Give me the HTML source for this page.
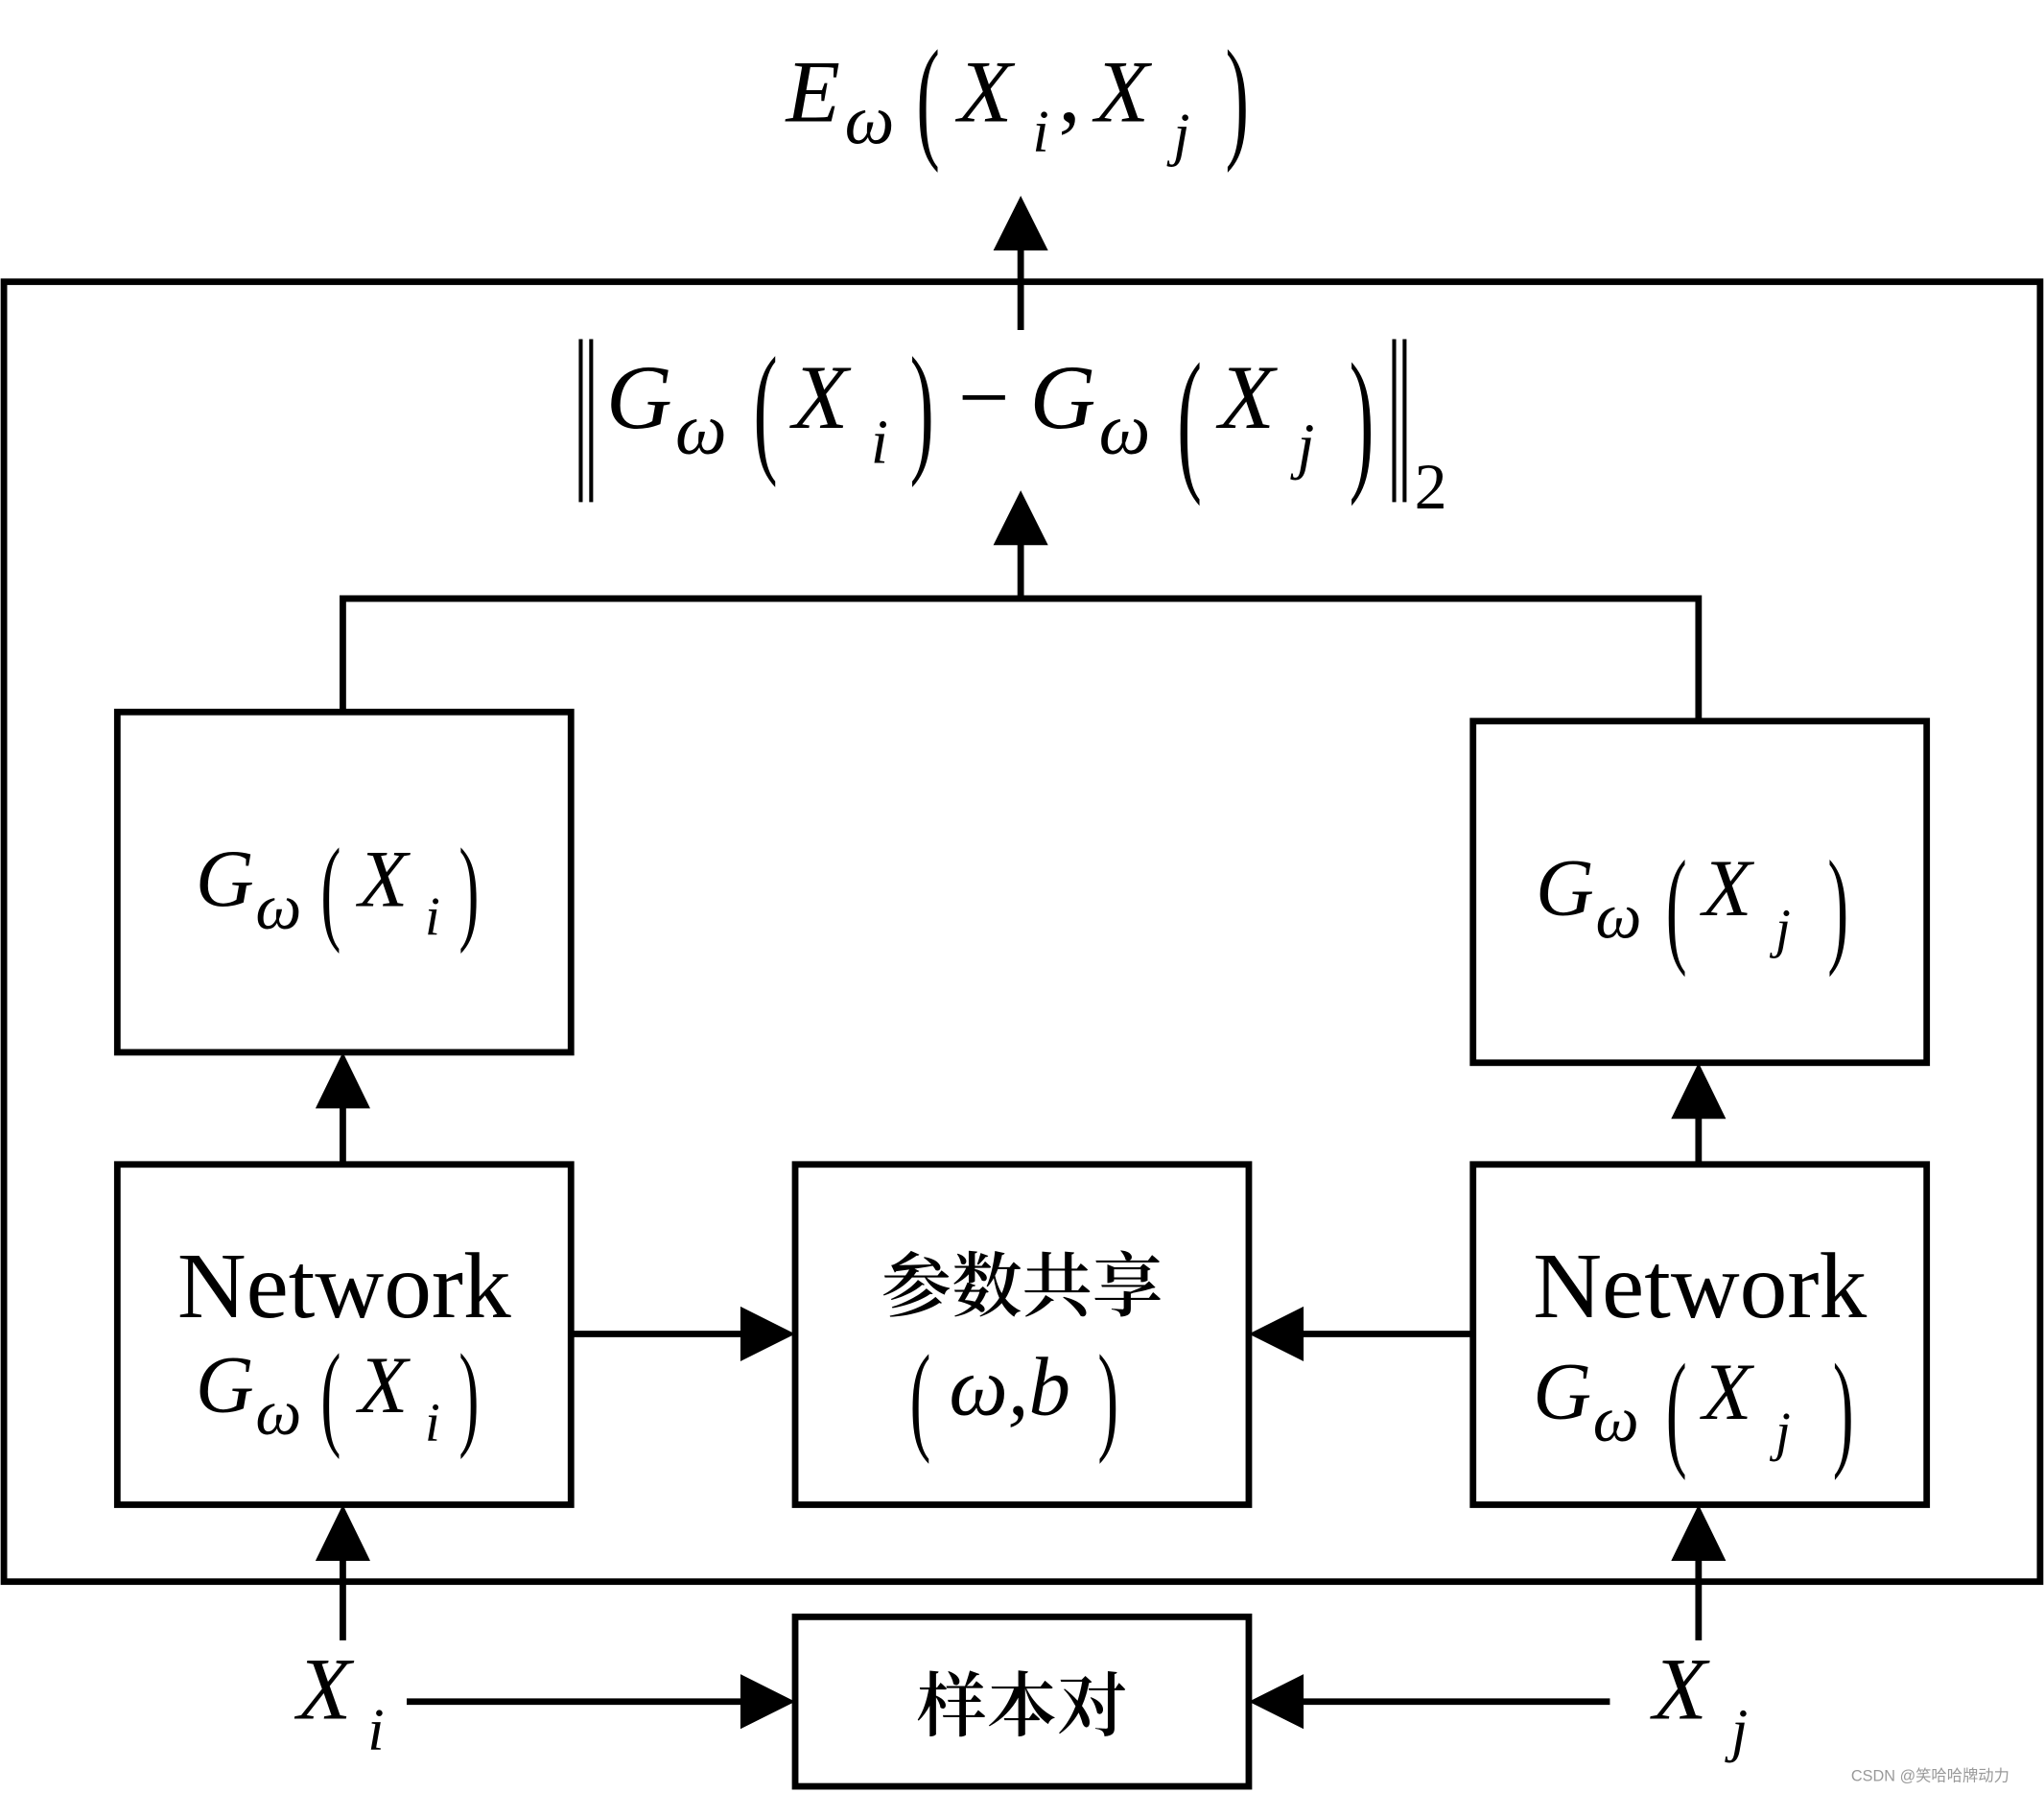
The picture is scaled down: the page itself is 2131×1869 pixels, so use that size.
<!DOCTYPE html>
<html><head><meta charset="utf-8"><style>
html,body{margin:0;padding:0;background:#fff;}
svg{display:block;}
text{font-family:"Liberation Serif","Noto Serif CJK SC",serif;fill:#000;}
.i{font-style:italic;}
.cjk{font-family:"Liberation Serif","Noto Serif CJK SC",serif;font-weight:600;}
</style></head><body>
<svg width="2131" height="1869" viewBox="0 0 1568 1375" xmlns="http://www.w3.org/2000/svg">
<g fill="none" stroke="#000" stroke-width="5">
<rect x="3" y="216" width="1562" height="997"/>
<rect x="90" y="546" width="348" height="261"/>
<rect x="1130" y="553" width="348" height="262"/>
<rect x="90" y="893" width="348" height="261"/>
<rect x="610" y="893" width="348" height="261"/>
<rect x="1130" y="893" width="348" height="261"/>
<rect x="610" y="1240" width="348" height="130"/>
<polyline points="263,546 263,459 1303,459 1303,553"/>
<line x1="783" y1="459" x2="783" y2="412"/>
<line x1="783" y1="253" x2="783" y2="186"/>
<line x1="263" y1="893" x2="263" y2="845"/>
<line x1="1303" y1="893" x2="1303" y2="853"/>
<line x1="263" y1="1258" x2="263" y2="1192"/>
<line x1="1303" y1="1258" x2="1303" y2="1192"/>
<line x1="438" y1="1023" x2="572" y2="1023"/>
<line x1="1130" y1="1023" x2="996" y2="1023"/>
<line x1="312" y1="1305" x2="572" y2="1305"/>
<line x1="1235" y1="1305" x2="996" y2="1305"/>
</g>
<g fill="#000">
<polygon points="783,150 762,192 804,192"/>
<polygon points="783,376 762,418 804,418"/>
<polygon points="263,807 242,850 284,850"/>
<polygon points="1303,815 1282,858 1324,858"/>
<polygon points="263,1154 242,1197 284,1197"/>
<polygon points="1303,1154 1282,1197 1324,1197"/>
<polygon points="610,1023 568,1002 568,1044"/>
<polygon points="958,1023 1000,1002 1000,1044"/>
<polygon points="610,1305 568,1284 568,1326"/>
<polygon points="958,1305 1000,1284 1000,1326"/>
</g>
<text x="603" y="93" font-size="68" class="i">E</text>
<text x="648" y="110" font-size="54" class="i">ω</text>
<text transform="translate(703,110) scale(0.75,1.45)" font-size="72">(</text>
<text x="735" y="93" font-size="68" class="i">X</text>
<text x="792" y="116" font-size="46" class="i">i</text>
<text x="812" y="93" font-size="68">,</text>
<text x="840" y="93" font-size="68" class="i">X</text>
<text x="900" y="118" font-size="46" class="i">j</text>
<text transform="translate(940,110) scale(0.75,1.45)" font-size="72">)</text>
<rect x="444" y="260" width="3" height="125"/>
<rect x="452" y="260" width="3" height="125"/>
<rect x="1068" y="260" width="3" height="125"/>
<rect x="1076" y="260" width="3" height="125"/>
<text x="465" y="328" font-size="70" class="i">G</text>
<text x="518" y="348" font-size="56" class="i">ω</text>
<text transform="translate(578,350) scale(0.75,1.5)" font-size="74">(</text>
<text x="608" y="328" font-size="70" class="i">X</text>
<text x="668" y="355" font-size="48" class="i">i</text>
<text transform="translate(698,350) scale(0.75,1.5)" font-size="74">)</text>
<text x="735" y="328" font-size="70">−</text>
<text x="790" y="328" font-size="70" class="i">G</text>
<text x="843" y="348" font-size="56" class="i">ω</text>
<text transform="translate(903,362) scale(0.75,1.6)" font-size="76">(</text>
<text x="935" y="328" font-size="70" class="i">X</text>
<text x="995" y="358" font-size="48" class="i">j</text>
<text transform="translate(1035,362) scale(0.75,1.6)" font-size="76">)</text>
<text x="1085" y="390" font-size="50">2</text>
<text x="150" y="695" font-size="62" class="i">G</text>
<text x="196" y="712" font-size="50" class="i">ω</text>
<text transform="translate(246,712) scale(0.75,1.45)" font-size="62">(</text>
<text x="275" y="695" font-size="62" class="i">X</text>
<text x="326" y="717" font-size="42" class="i">i</text>
<text transform="translate(352,712) scale(0.75,1.45)" font-size="62">)</text>
<text x="1178" y="702" font-size="62" class="i">G</text>
<text x="1224" y="719" font-size="50" class="i">ω</text>
<text transform="translate(1278,728) scale(0.75,1.55)" font-size="64">(</text>
<text x="1306" y="702" font-size="62" class="i">X</text>
<text x="1362" y="726" font-size="42" class="i">j</text>
<text transform="translate(1402,728) scale(0.75,1.55)" font-size="64">)</text>
<text x="264" y="1010" font-size="72" text-anchor="middle" textLength="256" lengthAdjust="spacingAndGlyphs">Network</text>
<text x="150" y="1083" font-size="62" class="i">G</text>
<text x="196" y="1100" font-size="50" class="i">ω</text>
<text transform="translate(246,1100) scale(0.75,1.45)" font-size="62">(</text>
<text x="275" y="1083" font-size="62" class="i">X</text>
<text x="326" y="1105" font-size="42" class="i">i</text>
<text transform="translate(352,1100) scale(0.75,1.45)" font-size="62">)</text>
<text x="784" y="1005" font-size="54" text-anchor="middle" class="cjk">参数共享</text>
<text transform="translate(698,1103) scale(0.75,1.45)" font-size="64">(</text>
<text x="728" y="1085" font-size="64" class="i">ω,b</text>
<text transform="translate(842,1103) scale(0.75,1.45)" font-size="64">)</text>
<text x="1304" y="1010" font-size="72" text-anchor="middle" textLength="256" lengthAdjust="spacingAndGlyphs">Network</text>
<text x="1176" y="1088" font-size="62" class="i">G</text>
<text x="1222" y="1105" font-size="50" class="i">ω</text>
<text transform="translate(1278,1114) scale(0.75,1.55)" font-size="64">(</text>
<text x="1306" y="1088" font-size="62" class="i">X</text>
<text x="1362" y="1112" font-size="42" class="i">j</text>
<text transform="translate(1406,1114) scale(0.75,1.55)" font-size="64">)</text>
<text x="784" y="1327" font-size="54" text-anchor="middle" class="cjk">样本对</text>
<text x="228" y="1318" font-size="68" class="i">X</text>
<text x="282" y="1342" font-size="46" class="i">i</text>
<text x="1268" y="1318" font-size="68" class="i">X</text>
<text x="1328" y="1342" font-size="46" class="i">j</text>
<text x="1420" y="1366" font-size="12" style="fill:#999;font-family:'Liberation Sans','Noto Sans CJK SC',sans-serif">CSDN @笑哈哈牌动力</text>
</svg>
</body></html>
